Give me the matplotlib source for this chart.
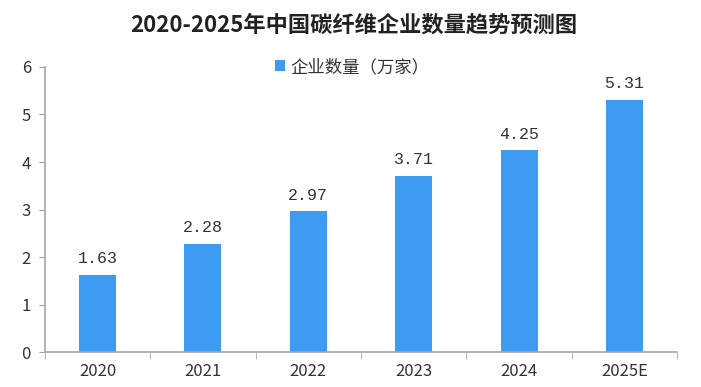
import matplotlib.pyplot as plt
import numpy as np

plt.rcParams['font.family'] = ['Noto Sans CJK SC', 'DejaVu Sans']

# data
years = ['2020', '2021', '2022', '2023', '2024', '2025E']
counts = [1.63, 2.28, 2.97, 3.71, 4.25, 5.31]
series_name = '企业数量（万家）'
title = '2020-2025年中国碳纤维企业数量趋势预测图'

bar_color = '#3d9cf2'
axis_color = '#a6a6a6'
text_color = '#333333'

fig = plt.figure(figsize=(7.01, 3.87), dpi=100)
ax = fig.add_axes([0.064, 0.09, 0.902, 0.737])

x = np.arange(len(years))
bars = ax.bar(x, counts, width=0.35, color=bar_color, label=series_name, zorder=2)

# value labels above bars
for xi, v in zip(x, counts):
    ax.annotate(f'{v:.2f}', (xi, v), xytext=(0, 6), textcoords='offset points',
                ha='center', va='bottom', fontsize=12, color=text_color,
                family='Liberation Mono')

ax.set_xlim(-0.5, len(years) - 0.5)
ax.set_ylim(0, 6)
ax.set_yticks(range(0, 7))
ax.set_xticks(x)
ax.set_xticklabels(years)
# category boundary ticks on x axis
ax.set_xticks(np.arange(-0.5, len(years), 1), minor=True)
ax.tick_params(axis='x', which='major', length=0, pad=8, labelsize=12, labelcolor=text_color)
ax.tick_params(axis='x', which='minor', length=5, color=axis_color, direction='out')
ax.tick_params(axis='y', length=4, color=axis_color, labelsize=12, labelcolor=text_color, pad=6)

for side in ['top', 'right']:
    ax.spines[side].set_visible(False)
for side in ['left', 'bottom']:
    ax.spines[side].set_color(axis_color)
    ax.spines[side].set_linewidth(1.2)

fig.text(0.505, 0.935, title, ha='center', va='center', fontsize=16,
         fontweight='bold', color='#222222')

leg = fig.legend(handles=[bars], labels=[series_name], loc='center',
                 bbox_to_anchor=(0.502, 0.827), frameon=False, fontsize=12.5,
                 handlelength=0.6, handleheight=0.6, handletextpad=0.3)
for t in leg.get_texts():
    t.set_color(text_color)

fig.savefig('out.png', dpi=100)
